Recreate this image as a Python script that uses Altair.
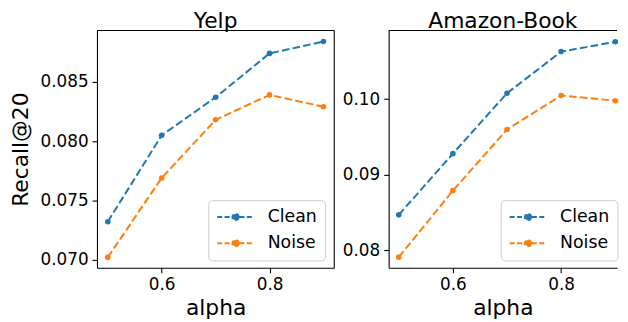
import altair as alt
import pandas as pd

alphas = [0.5, 0.6, 0.7, 0.8, 0.9]
yelp_clean = [0.0732, 0.0805, 0.0837, 0.0874, 0.0884]
yelp_noise = [0.0702, 0.0769, 0.0818, 0.0839, 0.0829]
book_clean = [0.0847, 0.0928, 0.1008, 0.1063, 0.1076]
book_noise = [0.0791, 0.0879, 0.0960, 0.1005, 0.0998]
series = ["Clean", "Noise"]
colors = ["#1f77b4", "#ff7f0e"]

FONT = "DejaVu Sans"


def frame(d_clean, d_noise):
    return pd.DataFrame(
        {
            "alpha": alphas * 2,
            "recall": d_clean + d_noise,
            "series": ["Clean"] * len(alphas) + ["Noise"] * len(alphas),
        }
    )


SYMBOL = "M-1,0H1M0.17,0A0.17,0.17,0,1,1,-0.17,0A0.17,0.17,0,1,1,0.17,0Z"


def panel(df, title, xdom, ydom, yticks, yfmt, ytitle, width, lx, ly, right_border):
    legend = alt.Legend(
        title=None,
        orient="none",
        legendX=lx,
        legendY=ly,
        labelFont=FONT,
        labelFontSize=17.5,
        labelColor="black",
        symbolType=SYMBOL,
        symbolSize=1369,
        symbolStrokeWidth=2,
        symbolDash=[5, 2.5],
        labelOffset=13,
        clipHeight=18,
        rowPadding=8.5,
        padding=8,
        strokeColor="#cccccc",
        fillColor="rgba(255,255,255,0.8)",
        cornerRadius=4,
    )
    base = alt.Chart(df)
    lines = base.mark_line(
        strokeWidth=2,
        strokeDash=[7.7, 3.3],
        point=alt.OverlayMarkDef(filled=True, size=32, opacity=1),
    ).encode(
        x=alt.X(
            "alpha:Q",
            scale=alt.Scale(domain=xdom, nice=False, zero=False),
            axis=alt.Axis(values=[0.6, 0.8], format=".1f", title="alpha"),
        ),
        y=alt.Y(
            "recall:Q",
            scale=alt.Scale(domain=ydom, nice=False, zero=False),
            axis=alt.Axis(values=yticks, format=yfmt, title=ytitle),
        ),
        color=alt.Color(
            "series:N",
            scale=alt.Scale(domain=series, range=colors),
            legend=legend,
        ),
    )
    top = alt.Chart(alt.Data(values=[{"a": 1}])).mark_rule(color="black", strokeWidth=1.1).encode(
        x=alt.value(0), x2=alt.value(width), y=alt.value(0)
    )
    layers = [lines, top]
    if right_border:
        rb = alt.Chart(alt.Data(values=[{"a": 1}])).mark_rule(color="black", strokeWidth=1.1).encode(
            x=alt.value(width), y=alt.value(0), y2=alt.value(240)
        )
        layers.append(rb)
    return alt.layer(*layers).properties(
        width=width,
        height=240,
        title=alt.TitleParams(title, font=FONT, fontSize=22, fontWeight="normal", color="black", offset=-3),
    )


left = panel(
    frame(yelp_clean, yelp_noise),
    "Yelp",
    [0.48, 0.92],
    [0.06932, 0.08933],
    [0.070, 0.075, 0.080, 0.085],
    ".3f",
    "Recall@20",
    240,
    112.6,
    171.6,
    True,
)
right = panel(
    frame(book_clean, book_noise),
    "Amazon-Book",
    [0.4813, 0.9032],
    [0.07769, 0.10909],
    [0.08, 0.09, 0.10],
    ".2f",
    None,
    231,
    113.4,
    171.6,
    False,
)

chart = (
    alt.hconcat(left, right, spacing=7)
    .resolve_legend(color="independent")
    .configure_view(stroke=None)
    .configure_axis(
        grid=False,
        labelFont=FONT,
        labelFontSize=17,
        labelColor="black",
        titleFont=FONT,
        titleFontSize=22,
        titleFontWeight="normal",
        titleColor="black",
        domainColor="black",
        domainWidth=1.1,
        tickColor="black",
        tickSize=5,
        tickWidth=1.1,
        labelPadding=4,
    )
    .configure_axisX(titlePadding=5)
    .configure_axisY(titlePadding=8)
    .properties(padding={"left": 1, "top": 0, "right": 0, "bottom": 0})
)

chart.save("out.html", embed_options={"renderer": "svg", "actions": False})
